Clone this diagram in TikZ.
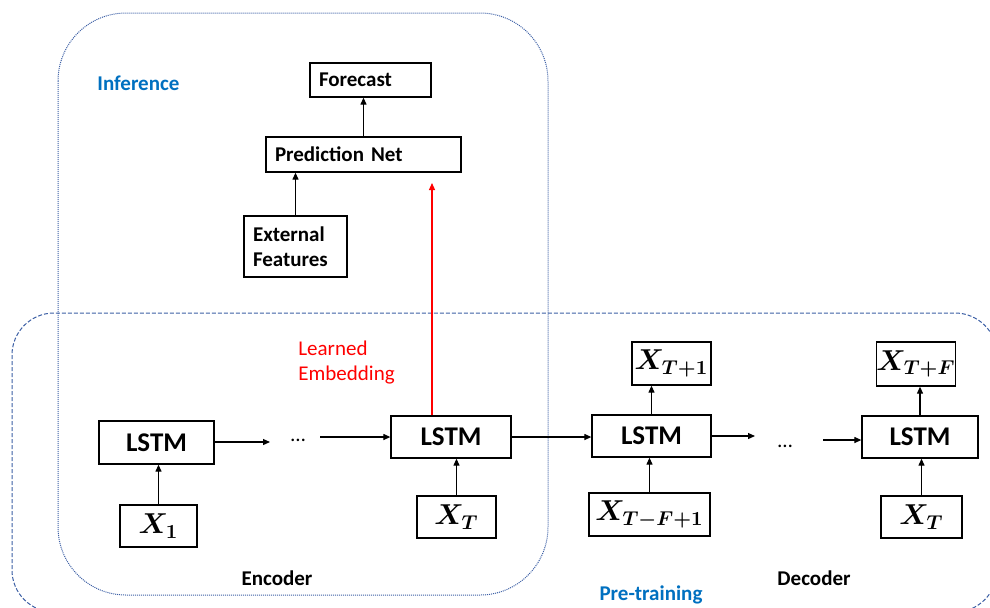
\documentclass[tikz,border=0pt]{standalone}
\usepackage[no-math]{fontspec}
\setmainfont{Carlito}
\usepackage{bm}
\usetikzlibrary{arrows.meta}
\definecolor{frameblue}{RGB}{60,95,165}
\definecolor{labelblue}{RGB}{0,112,192}
\begin{document}
\begin{tikzpicture}[x=0.5pt,y=-0.5pt,
  box/.style={draw, line width=0.65pt, inner sep=0pt},
  lbox/.style={box, align=left, inner xsep=4.5pt, font=\bfseries\fontsize{10.5}{12.5}\selectfont},
  cell/.style={box, font=\bfseries\fontsize{13.5}{16}\selectfont},
  var/.style={box, font=\fontsize{14}{16}\selectfont},
  label/.style={inner sep=0pt, font=\bfseries\fontsize{10.5}{12.5}\selectfont},
  arr/.style={line width=0.6pt, -{Triangle[length=3.5pt,width=3pt]}},
  frame/.style={draw=frameblue, line width=0.5pt}]
  \useasboundingbox (0,0) rectangle (990,607);
  \clip (0,0) rectangle (990,607);

  % group outlines
  \draw[frame, dash pattern=on 0.5pt off 0.5pt, rounded corners=34pt]
    (58,13) rectangle (548,595);
  \draw[frame, dash pattern=on 2pt off 1pt, rounded corners=21pt]
    (12,313) rectangle (997,612);

  % inference branch
  \node[lbox, text width=51.5pt, minimum height=17pt] (fc) at (370.5,80) {Forecast};
  \node[lbox, text width=88.5pt, minimum height=17.5pt] (pn) at (363.5,154.5) {Prediction Net};
  \node[lbox, text width=42.5pt, minimum height=30.5pt] (ef) at (295.5,246.5) {External\\Features};

  % encoder
  \node[cell, minimum width=57.5pt, minimum height=21.5pt] (l1) at (156.5,442.5) {LSTM};
  \node[var, minimum width=38.5pt, minimum height=21pt] (x1) at (158.5,526) {$\bm{X_1}$};
  \node[cell, minimum width=60pt, minimum height=21pt] (l2) at (451,437) {LSTM};
  \node[var, minimum width=39.5pt, minimum height=21pt] (xt) at (456.5,517) {$\bm{X_T}$};

  % decoder
  \node[cell, minimum width=59.5pt, minimum height=21pt] (l3) at (651.5,436) {LSTM};
  \node[var, minimum width=39.5pt, minimum height=21.5pt] (xo1) at (671.5,363.5) {$\bm{X_{T+1}}$};
  \node[var, minimum width=60.5pt, minimum height=21.5pt] (xi1) at (649.5,514.5) {$\bm{X_{T-F+1}}$};
  \node[cell, minimum width=58pt, minimum height=21pt] (l4) at (920,437) {LSTM};
  \node[var, minimum width=36pt, minimum height=22pt] (xo2) at (916,364) {$\bm{X_{T+F}}$};
  \node[var, minimum width=40.5pt, minimum height=21pt] (xi2) at (921.5,517) {$\bm{X_T}$};

  % ellipses between cells
  \node[inner sep=0pt, font=\fontsize{10.5}{12.5}\selectfont] (dots1) at (298,440) {…};
  \node[inner sep=0pt, font=\fontsize{10.5}{12.5}\selectfont] (dots2) at (785,446) {…};
  \coordinate (d1a) at (270,442);
  \coordinate (d1b) at (320,437);
  \coordinate (d2a) at (755,436);
  \coordinate (d2b) at (823,440);
  \coordinate (emb) at (432,183);

  % text labels
  \node[label, text=labelblue, anchor=west] (inf) at (97,83) {Inference};
  \node[inner sep=0pt, anchor=north west, align=left, text=red,
        font=\fontsize{10.5}{12.5}\selectfont] (le) at (298,341) {Learned\\Embedding};
  \node[label] (enc) at (277,578) {Encoder};
  \node[label] (dec) at (814,578) {Decoder};
  \node[label, text=labelblue] (pt) at (651,595) {Pre-training};

  % connectors
  \draw[arr] (ef.north) -- (ef.north |- pn.south);
  \draw[arr] (pn.north) -- (pn.north |- fc.south);
  \draw[arr, red] (l2.north -| emb) -- (emb);

  \draw[arr] (x1.north) -- (x1.north |- l1.south);
  \draw[arr] (xt.north) -- (xt.north |- l2.south);
  \draw[arr] (xi1.north) -- (xi1.north |- l3.south);
  \draw[arr] (l3.north) -- (l3.north |- xo1.south);
  \draw[arr] (xi2.north) -- (xi2.north |- l4.south);
  \draw[arr] (l4.north) -- (l4.north |- xo2.south);

  \draw[arr] (l1.east |- d1a) -- (d1a);
  \draw[arr] (d1b) -- (d1b -| l2.west);
  \draw[arr] (l2.east) -- (l2.east -| l3.west);
  \draw[arr] (l3.east) -- (d2a);
  \draw[arr] (d2b) -- (d2b -| l4.west);
\end{tikzpicture}
\end{document}
